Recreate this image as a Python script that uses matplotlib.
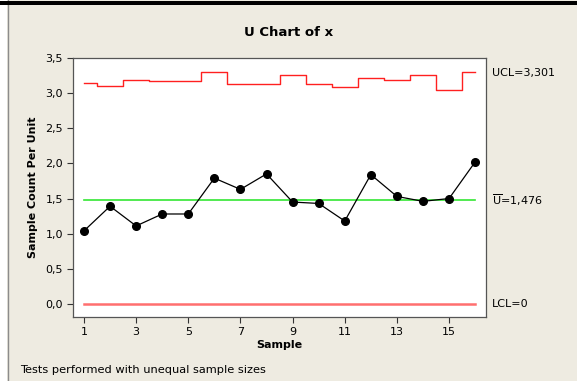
import matplotlib.pyplot as plt
import numpy as np

samples = np.arange(1, 17)
u_values = [1.04, 1.39, 1.11, 1.28, 1.28, 1.79, 1.63, 1.85,
            1.45, 1.43, 1.18, 1.84, 1.53, 1.46, 1.50, 2.02]
ucl = [3.14, 3.10, 3.19, 3.17, 3.17, 3.30, 3.125, 3.125,
       3.26, 3.125, 3.08, 3.22, 3.18, 3.26, 3.05, 3.301]
u_bar = 1.476
lcl = 0.0
x_ticks = [1, 3, 5, 7, 9, 11, 13, 15]
y_ticks = [0.0, 0.5, 1.0, 1.5, 2.0, 2.5, 3.0, 3.5]
y_tick_labels = ["0,0", "0,5", "1,0", "1,5", "2,0", "2,5", "3,0", "3,5"]

bg = "#EEEBE1"
fig = plt.figure(figsize=(5.77, 3.81), dpi=100, facecolor=bg)

# frame bits like the minitab window
fig.patches.append(plt.Rectangle((0, 0), 7 / 577, 1, transform=fig.transFigure,
                                 facecolor="white", edgecolor="none", zorder=0))
fig.lines.append(plt.Line2D([7.5 / 577, 7.5 / 577], [0, 1], transform=fig.transFigure,
                            color="#8c8c8c", lw=1))
fig.patches.append(plt.Rectangle((0, 1 - 5 / 381), 1, 4 / 381, transform=fig.transFigure,
                                 facecolor="black", edgecolor="none", zorder=3))

ax = fig.add_axes([0.127, 0.168, 0.715, 0.680])
ax.set_facecolor("white")

ax.step(samples, ucl, where="mid", color="#FF2020", lw=1)
ax.plot([samples[0], samples[-1]], [u_bar, u_bar], color="#33E633", lw=1.2)
ax.plot([samples[0], samples[-1]], [lcl, lcl], color="#FF6F6F", lw=1.8)
ax.plot(samples, u_values, color="black", lw=0.9, marker="o", markersize=5.5)

ax.set_xlim(0.59, 16.41)
ax.set_ylim(-0.185, 3.5)
ax.set_xticks(x_ticks)
ax.set_yticks(y_ticks)
ax.set_yticklabels(y_tick_labels)
ax.tick_params(labelsize=8, length=4, width=0.8, direction="out", color="#333333")
for s in ax.spines.values():
    s.set_color("#555555")
    s.set_linewidth(0.9)

ax.set_xlabel("Sample", fontsize=8, fontweight="bold", labelpad=2)
ax.set_ylabel("Sample Count Per Unit", fontsize=8, fontweight="bold", labelpad=5)

fig.text(0.5, 1 - 33 / 381, "U Chart of x", ha="center", va="center",
         fontsize=9.5, fontweight="bold")

ax.text(1.015, ucl[-1] - 0.02, "UCL=3,301", transform=ax.get_yaxis_transform(),
        va="center", ha="left", fontsize=8)
ax.text(1.015, u_bar, r"$\overline{\mathrm{U}}$=1,476", transform=ax.get_yaxis_transform(),
        va="center", ha="left", fontsize=8)
ax.text(1.015, lcl, "LCL=0", transform=ax.get_yaxis_transform(),
        va="center", ha="left", fontsize=8)

fig.text(20 / 577, 1 - 370 / 381, "Tests performed with unequal sample sizes",
         ha="left", va="center", fontsize=8.2)

fig.savefig("out.png", dpi=100, facecolor=bg)
